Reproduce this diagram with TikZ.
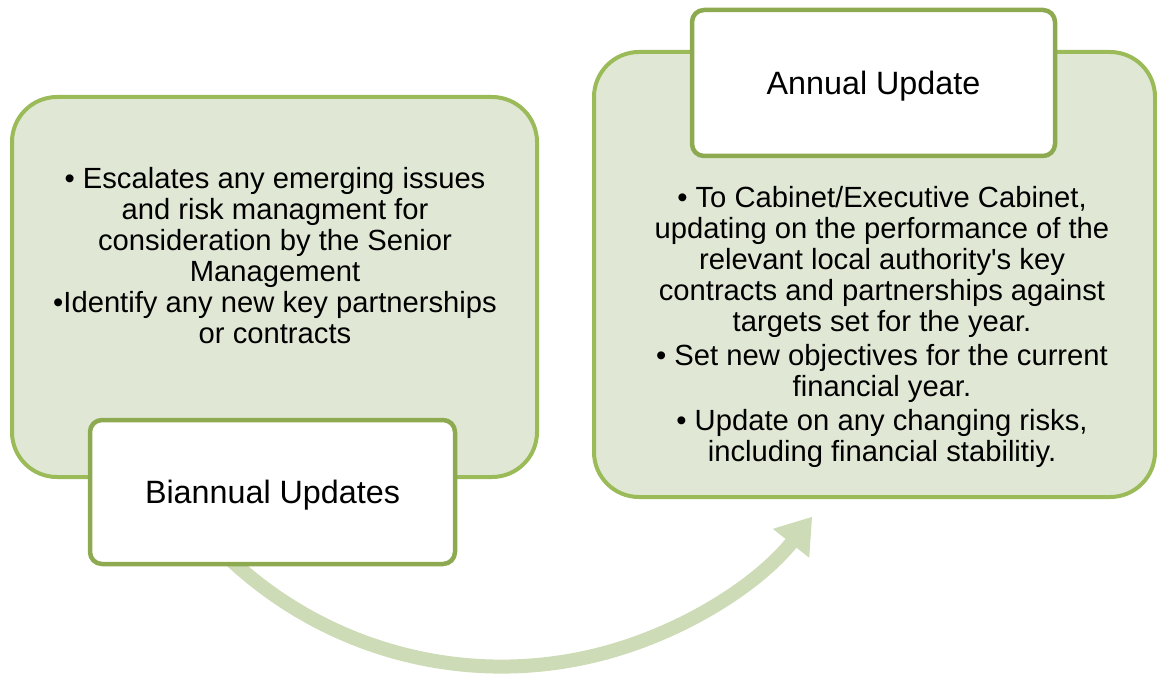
\documentclass[tikz,border=0pt]{standalone}
\usepackage{fontspec}
\setmainfont{Liberation Sans}
\usetikzlibrary{arrows.meta}
\definecolor{bigfill}{HTML}{E0E8D5}
\definecolor{bigline}{HTML}{9BBB59}
\definecolor{smallline}{HTML}{8DAA51}
\definecolor{arrowcol}{HTML}{CDDBB6}
\tikzset{
  bigbox/.style={draw=bigline, fill=bigfill, line width=4pt, rounded corners=45pt},
  smallbox/.style={draw=smallline, fill=white, line width=4.5pt, rounded corners=12pt},
  bodytext/.style={align=center, font=\fontsize{29.2}{31}\selectfont, inner sep=0pt},
  titletext/.style={font=\fontsize{32.3}{36}\selectfont, inner sep=0pt},
  flow/.style={draw=arrowcol, line width=14pt, -{Triangle[length=34pt,width=44pt]}}
}
\begin{document}
\begin{tikzpicture}[x=1pt,y=-1pt]
\useasboundingbox (0,0) rectangle (1157,679);
% arrow (behind boxes)
\coordinate (arrowstart) at (220.8,550.3);
\draw[flow] (arrowstart) arc[start angle=135, end angle=38.5, radius=397];
% left group
\node[bigbox, minimum width=525pt, minimum height=380pt] (leftbox) at (274.5,287) {};
\node[bodytext] (lefttext) at (275,256) {%
  • Escalates any emerging issues\\
  and risk managment for\\
  consideration by the Senior\\
  Management\\
  •Identify any new key partnerships\\
  or contracts};
\node[smallbox, minimum width=365pt, minimum height=144pt] (biannual) at (272.5,492) {};
\node[titletext] at ([yshift=-3pt]biannual.center) {Biannual Updates};
% right group
\node[bigbox, minimum width=561pt, minimum height=445pt] (rightbox) at (874.5,274.5) {};
\node[bodytext] (righttext) at (882,327) {%
  • To Cabinet/Executive Cabinet,\\
  updating on the performance of the\\
  relevant local authority\textquotesingle s key\\
  contracts and partnerships against\\
  targets set for the year.\\[3pt]
  • Set new objectives for the current\\
  financial year.\\[3pt]
  • Update on any changing risks,\\
  including financial stabilitiy.};
\node[smallbox, minimum width=363pt, minimum height=146pt] (annual) at (873.5,83) {};
\node[titletext] at ([yshift=-3pt]annual.center) {Annual Update};
\end{tikzpicture}
\end{document}
